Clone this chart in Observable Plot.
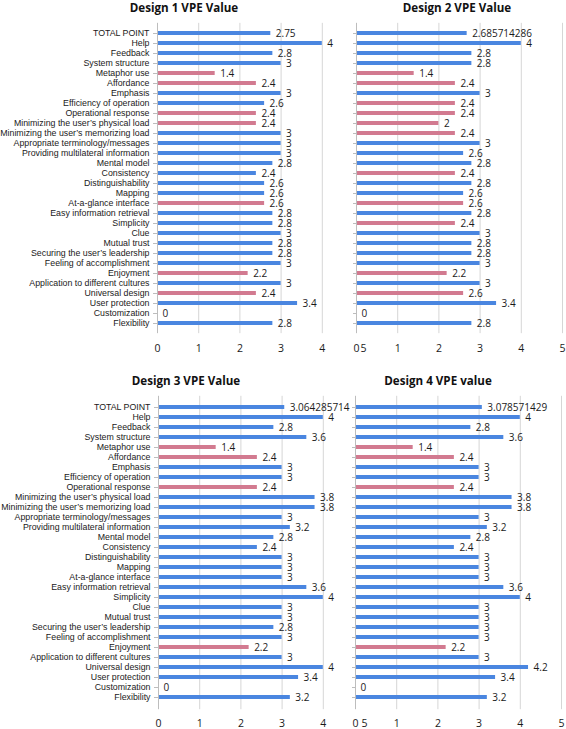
<!DOCTYPE html>
<html><head><meta charset="utf-8">
<script src="https://cdn.jsdelivr.net/npm/d3@7"></script>
<script src="https://cdn.jsdelivr.net/npm/@observablehq/plot@0.6"></script>
<style>
body{margin:0;background:#fff;}
#wrap{position:relative;width:566px;height:729px;overflow:hidden;background:#fff;}
.panel{position:absolute;}
.title{position:absolute;font-family:"Open Sans",sans-serif;font-weight:700;font-size:11.6px;line-height:16px;color:#111;white-space:nowrap;transform:translateX(-50%);}
</style></head><body><div id="wrap"></div>
<script>
const categories = ["TOTAL POINT","Help","Feedback","System structure","Metaphor use","Affordance","Emphasis","Efficiency of operation","Operational response","Minimizing the user\u2019s physical load","Minimizing the user\u2019s memorizing load","Appropriate terminology/messages","Providing multilateral information","Mental model","Consistency","Distinguishability","Mapping","At-a-glance interface","Easy information retrieval","Simplicity","Clue","Mutual trust","Securing the user\u2019s leadership","Feeling of accomplishment","Enjoyment","Application to different cultures","Universal design","User protection","Customization","Flexibility"];

const design1 = [2.75,4,2.8,3,1.4,2.4,3,2.6,2.4,2.4,3,3,3,2.8,2.4,2.6,2.6,2.6,2.8,2.8,3,2.8,2.8,3,2.2,3,2.4,3.4,0,2.8];
const design2 = [2.685714286,4,2.8,2.8,1.4,2.4,3,2.4,2.4,2,2.4,3,2.6,2.8,2.4,2.8,2.6,2.6,2.8,2.4,3,2.8,2.8,3,2.2,3,2.6,3.4,0,2.8];
const design3 = [3.064285714,4,2.8,3.6,1.4,2.4,3,3,2.4,3.8,3.8,3,3.2,2.8,2.4,3,3,3,3.6,4,3,3,2.8,3,2.2,3,4,3.4,0,3.2];
const design4 = [3.078571429,4,2.8,3.6,1.4,2.4,3,3,2.4,3.8,3.8,3,3.2,2.8,2.4,3,3,3,3.6,4,3,3,3,3,2.2,3,4.2,3.4,0,3.2];

// categories drawn in pink in each design
const pink1 = ["Metaphor use","Affordance","Operational response","Minimizing the user\u2019s physical load","At-a-glance interface","Enjoyment","Universal design"];
const pink2 = ["Metaphor use","Affordance","Efficiency of operation","Operational response","Minimizing the user\u2019s physical load","Minimizing the user\u2019s memorizing load","Consistency","At-a-glance interface","Simplicity","Enjoyment","Universal design"];
const pink3 = ["Metaphor use","Affordance","Operational response","Enjoyment"];
const pink4 = ["Metaphor use","Affordance","Operational response","Enjoyment"];

const titles = ["Design 1 VPE Value","Design 2 VPE Value","Design 3 VPE Value","Design 4 VPE value"];
const xTicks = [0,1,2,3,4,5];
const groups = ["normal","low"];
const groupColors = ["#4a86e0","#d27a90"];

const wrap = document.getElementById("wrap");

function panel(values, pink, o) {
  const data = categories.map((c, i) => ({cat: c, value: values[i], group: pink.includes(c) ? "low" : "normal"}));
  const chart = Plot.plot({
    width: o.width, height: o.height,
    marginLeft: o.ml, marginRight: o.mr, marginTop: o.mt, marginBottom: o.mb,
    style: {background: "transparent", overflow: "visible"},
    x: {domain: [0, 5], label: null},
    y: {domain: categories, paddingInner: 0.56, paddingOuter: 0.28, align: 0.5, label: null},
    color: {domain: groups, range: groupColors},
    marks: [
      Plot.ruleX(o.grid, {stroke: "#d6d6d6", strokeWidth: 1}),
      Plot.barX(data, {x: "value", y: "cat", fill: "group"}),
      Plot.ruleX([0], {stroke: "#bdbdbd", strokeWidth: 1}),
      Plot.text(data, {x: "value", y: "cat", text: d => String(d.value), textAnchor: "start", dx: 5, fontSize: 10, fontFamily: "Open Sans", fill: "#1a1a1a"}),
      Plot.axisY({tickSize: o.labels ? 4 : 3, tickPadding: 4, stroke: "#bdbdbd", fill: "#1a1a1a", fontSize: 8.8, fontFamily: "Liberation Sans", label: null, tickFormat: o.labels ? d => d : () => ""}),
      Plot.axisX({ticks: xTicks, tickFormat: d => String(d), tickSize: 0, tickPadding: o.tp, fontSize: 10.5, fontFamily: "Open Sans", fill: "#1a1a1a", label: null})
    ]
  });
  chart.classList.add("panel");
  chart.style.left = o.left + "px";
  chart.style.top = o.top + "px";
  wrap.appendChild(chart);
}

function addTitle(t, cx, top) {
  const d = document.createElement("div");
  d.className = "title";
  d.textContent = t;
  d.style.left = cx + "px";
  d.style.top = top + "px";
  wrap.appendChild(d);
}

panel(design1, pink1, {left: 0, top: 0, width: 372, height: 355, ml: 157, mr: 9, mt: 22.83, mb: 21.83, grid: [1,2,3,4], labels: true, tp: 11});
panel(design2, pink2, {left: 300, top: 0, width: 266, height: 355, ml: 56, mr: 4, mt: 22.83, mb: 21.83, grid: [1,2,3,4,5], labels: false, tp: 11});
panel(design3, pink3, {left: 0, top: 360, width: 372, height: 369, ml: 158, mr: 8, mt: 35.8, mb: 19.8, grid: [1,2,3,4], labels: true, tp: 9.5});
panel(design4, pink4, {left: 300, top: 360, width: 266, height: 369, ml: 55, mr: 5, mt: 35.8, mb: 19.8, grid: [1,2,3,4,5], labels: false, tp: 9.5});

addTitle(titles[0], 184, 0);
addTitle(titles[1], 457, 0);
addTitle(titles[2], 186, 373);
addTitle(titles[3], 438, 373);
</script>
</body></html>
